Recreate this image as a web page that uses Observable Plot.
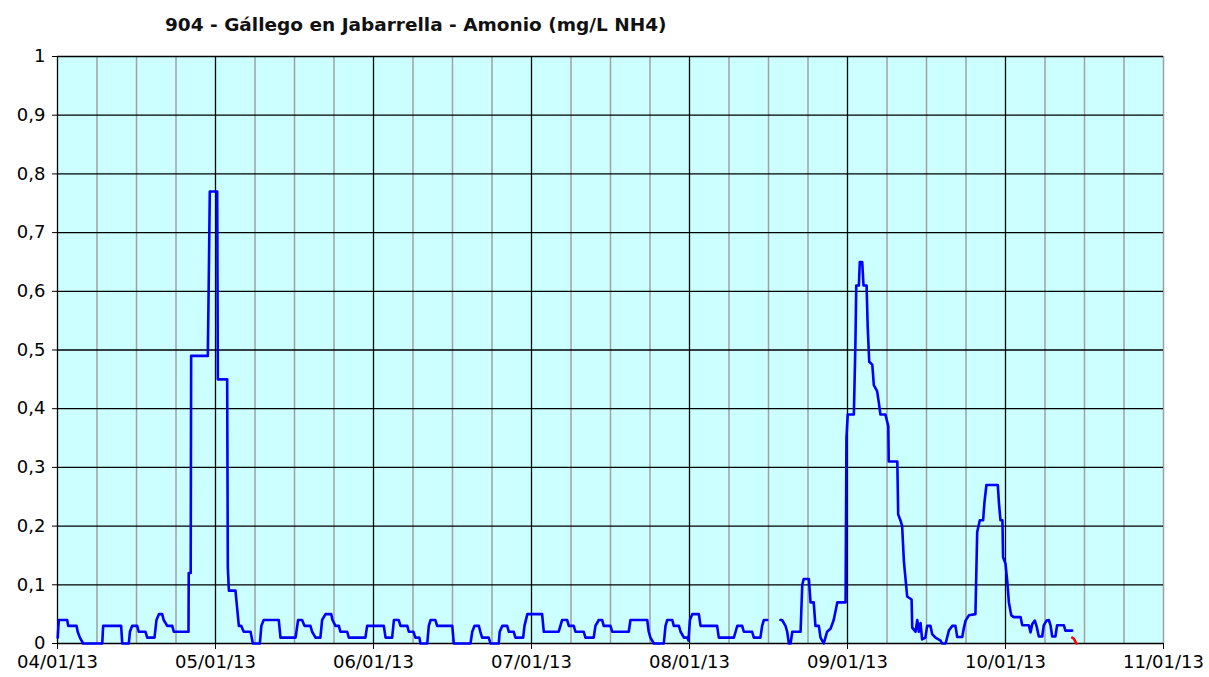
<!DOCTYPE html>
<html><head><meta charset="utf-8">
<script src="https://cdn.jsdelivr.net/npm/d3@7"></script>
<script src="https://cdn.jsdelivr.net/npm/@observablehq/plot@0.6"></script>
<style>
body{margin:0;background:#fff;font-family:"DejaVu Sans",Verdana,sans-serif;}
#title{height:40px;position:relative;}
#title span{position:absolute;left:165px;top:16px;font-weight:bold;font-size:18.5px;line-height:1;color:#111;white-space:nowrap;}
</style></head><body>
<div id="title"><span>904 - Gállego en Jabarrella - Amonio (mg/L NH4)</span></div>
<div id="chart"></div>
<script>
const monthLabels = ["2013-04-01","2013-05-01","2013-06-01","2013-07-01","2013-08-01","2013-09-01","2013-10-01","2013-11-01"];
const yTicks = [0,0.1,0.2,0.3,0.4,0.5,0.6,0.7,0.8,0.9,1];

// blue series: time (MM-DD HH, 2013) and ammonium value (mg/L NH4); null = gap
const times = [
"04-01 01","04-01 06","04-02 20","04-03 01","04-04 15","04-04 20","04-05 06","04-05 21","04-09 12","04-09 16",
"04-13 02","04-13 07","04-14 13","04-14 18","04-15 04","04-16 03","04-16 10","04-17 17","04-18 01","04-19 10",
"04-19 19","04-20 06","04-20 21","04-21 04","04-21 20","04-22 19","04-23 02","04-25 21","04-25 22","04-26 07",
"04-26 09","04-29 13","04-29 18","04-29 22","05-01 08","05-01 11","05-03 07","05-03 10","05-03 15","05-04 22",
"05-05 06","05-05 14","05-06 01","05-06 13","05-07 21","05-08 08","05-09 17","05-10 00","05-10 11","05-13 10",
"05-13 18","05-16 17","05-17 05","05-18 00","05-18 11","05-19 15","05-19 23","05-20 15","05-21 14","05-21 22",
"05-22 14","05-23 17","05-23 23","05-24 13","05-25 05","05-25 12","05-26 20","05-27 04","05-30 10","05-30 18",
"06-02 23","06-03 07","06-04 13","06-04 21","06-05 19","06-06 03","06-07 10","06-07 17","06-08 14","06-08 23",
"06-09 17","06-09 22","06-11 05","06-11 12","06-11 20","06-12 18","06-13 02","06-15 23","06-16 06","06-19 10",
"06-19 18","06-20 04","06-21 00","06-21 07","06-21 15","06-22 21","06-23 05","06-24 19","06-24 23","06-25 11",
"06-26 09","06-26 17","06-27 15","06-27 23","06-29 10","06-29 16","06-30 05","07-03 02","07-03 10","07-06 08",
"07-06 16","07-07 00","07-08 00","07-08 08","07-09 07","07-09 15","07-11 06","07-11 14","07-13 05","07-13 13",
"07-14 05","07-14 21","07-15 04","07-16 12","07-16 20","07-20 02","07-20 10","07-23 17","07-24 00","07-24 08",
"07-25 00","07-26 23","07-27 07","07-27 15","07-28 15","07-28 22","07-29 22","07-30 06","07-30 22","07-31 14",
"07-31 19","08-01 02","08-01 13","08-02 20","08-03 04","08-06 10","08-06 18","08-09 17","08-10 01","08-10 09",
"08-11 08","08-11 16","08-13 07","08-13 15","08-14 22","08-15 06","08-15 14","08-16 06","08-17 12","08-18 20",
"08-19 04","08-19 20","08-20 04","08-20 12","08-20 20","08-21 04","08-22 19","08-23 03","08-23 10","08-24 10",
"08-24 18","08-25 09","08-25 17","08-26 09","08-26 17","08-27 08","08-27 16","08-28 00","08-28 16","08-29 07",
"08-30 00","08-31 15","08-31 19","09-01 01","09-02 05","09-02 12","09-02 16","09-03 04","09-03 08","09-03 19",
"09-04 01","09-04 15","09-04 20","09-05 03","09-05 17","09-06 00","09-06 15","09-06 23","09-07 06","09-08 05",
"09-08 18","09-08 20","09-10 11","09-10 15","09-11 01","09-11 09","09-11 17","09-12 08","09-13 04","09-13 07",
"09-13 22","09-14 06","09-14 13","09-14 21","09-15 04","09-15 19","09-16 03","09-16 18","09-17 02","09-17 17",
"09-18 16","09-18 23","09-19 15","09-20 06","09-20 21","09-21 12","09-21 20","09-22 19","09-23 02","09-23 10",
"09-24 01","09-25 07","09-25 15","09-26 03","09-26 18","09-27 00","09-27 09","09-29 13","09-29 18","09-30 01",
"09-30 10","09-30 13","10-01 00","10-01 08","10-01 16","10-02 03","10-02 15","10-03 23","10-04 07","10-05 14",
"10-05 22","10-06 06","10-06 18","10-07 02","10-07 13","10-08 05","10-08 12","10-09 01","10-09 12","10-09 20",
"10-10 04","10-10 19","10-11 03","10-12 11","10-12 18","10-14 02"
];
const ammonium = [
0.01,0.04,0.04,0.03,0.03,0.02,0.01,0,0,0.03,
0.03,0,0,0.02,0.03,0.03,0.02,0.02,0.01,0.01,
0.04,0.05,0.05,0.04,0.03,0.03,0.02,0.02,0.12,0.12,
0.49,0.49,0.64,0.77,0.77,0.45,0.45,0.13,0.09,0.09,
0.06,0.03,0.03,0.02,0.02,0,0,0.03,0.04,0.04,
0.01,0.01,0.04,0.04,0.03,0.03,0.02,0.01,0.01,0.04,
0.05,0.05,0.04,0.03,0.03,0.02,0.02,0.01,0.01,0.03,
0.03,0.01,0.01,0.04,0.04,0.03,0.03,0.02,0.02,0.01,
0.01,0,0,0.03,0.04,0.04,0.03,0.03,0,0,
0.02,0.03,0.03,0.02,0.01,0.01,0,0,0.02,0.03,
0.03,0.02,0.02,0.01,0.01,0.03,0.05,0.05,0.02,0.02,
0.03,0.04,0.04,0.03,0.03,0.02,0.02,0.01,0.01,0.03,
0.04,0.04,0.03,0.03,0.02,0.02,0.04,0.04,0.02,0.01,
0,0,0.03,0.04,0.04,0.03,0.03,0.02,0.01,0.01,
0.005,0.04,0.05,0.05,0.03,0.03,0.01,0.01,0.02,0.03,
0.03,0.02,0.02,0.01,0.01,0.03,0.04,0.04,null,0.04,
0.04,0.03,0.02,0,0,0.02,0.02,0.10,0.11,0.11,
0.07,0.07,0.03,0.03,0.01,0,0.01,0.02,0.025,0.04,
0.07,0.07,0.35,0.39,0.39,0.51,0.61,0.61,0.65,0.65,
0.61,0.61,0.54,0.48,0.475,0.44,0.43,0.41,0.39,0.39,
0.37,0.31,0.31,0.22,0.21,0.20,0.14,0.08,0.075,0.027,
0.02,0.04,0.02,0.035,0.007,0.01,0.03,0.03,0.016,0.01,
0.005,0,0,0.022,0.03,0.03,0.011,0.011,0.026,0.039,
0.048,0.05,0.19,0.21,0.21,0.24,0.27,0.27,0.24,0.21,
0.21,0.147,0.136,0.107,0.07,0.048,0.045,0.045,0.031,0.031,
0.019,0.033,0.039,0.03,0.012,0.012,0.031,0.039,0.04,0.031,
0.012,0.012,0.031,0.031,0.022,0.022
];
// short red series at the end
const redTimes = ["10-14 02","10-14 10","10-14 22"];
const redValues = [0.01,0.008,0];

const parse = d3.utcParse("%Y-%m-%d %H");
const parseDay = d3.utcParse("%Y-%m-%d");
const months = monthLabels.map(parseDay);
const blue = times.map((t, i) => ({date: parse("2013-" + t), value: ammonium[i]}));
const red = redTimes.map((t, i) => ({date: parse("2013-" + t), value: redValues[i]}));

const W = 1209, H = 637, mL = 57, mR = 46, mT = 16, mB = 34;
const xRange = months.map((_, i) => mL + i * (W - mL - mR) / (months.length - 1));
const minor = [];
for (let i = 0; i < months.length - 1; i++) {
  for (let k = 1; k < 4; k++) minor.push(new Date(+months[i] + k * (months[i+1] - months[i]) / 4));
}
const yFmt = d => (Math.round(d * 10) / 10).toString().replace(".", ",");

const chart = Plot.plot({
  width: W, height: H,
  marginLeft: mL, marginRight: mR, marginTop: mT, marginBottom: mB,
  x: {type: "utc", domain: months, range: xRange, label: null},
  y: {domain: [0, 1], label: null},
  style: {fontFamily: "DejaVu Sans, Verdana, sans-serif", fontSize: "18px", color: "#000", background: "#fff", overflow: "visible"},
  marks: [
    Plot.frame({fill: "#CCFFFF", stroke: null}),
    Plot.ruleX(minor, {stroke: "#a0a0a0", strokeWidth: 1.5}),
    Plot.ruleX([months[months.length - 1]], {stroke: "#a0a0a0", strokeWidth: 1.5}),
    Plot.ruleY(yTicks, {stroke: "#000", strokeWidth: 1.3}),
    Plot.ruleX(months.slice(0, -1), {stroke: "#000", strokeWidth: 1.3}),
    Plot.axisY({ticks: yTicks, tickSize: 5, tickPadding: 7, tickFormat: yFmt, label: null}),
    Plot.axisX({ticks: months, tickSize: 6, tickPadding: 6, tickFormat: d3.utcFormat("%m/%d/%y"), label: null}),
    Plot.line(blue, {x: "date", y: "value", stroke: "#0000ff", strokeWidth: 2.6}),
    Plot.line(red, {x: "date", y: "value", stroke: "#ff0000", strokeWidth: 2.6})
  ]
});
document.getElementById("chart").appendChild(chart);
</script>
</body></html>
